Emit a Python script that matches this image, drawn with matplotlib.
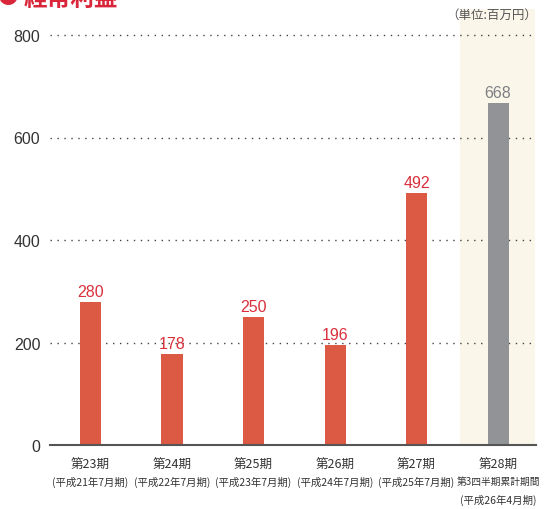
#!/usr/bin/env python3
"""経常利益 bar chart (unit: million yen)."""

import matplotlib
matplotlib.use("Agg")
import matplotlib.pyplot as plt

plt.rcParams["font.family"] = ["Noto Sans CJK JP", "DejaVu Sans"]

periods = ["第23期", "第24期", "第25期", "第26期", "第27期", "第28期"]
subtitles = ["(平成21年7月期)", "(平成22年7月期)", "(平成23年7月期)",
             "(平成24年7月期)", "(平成25年7月期)", "第3四半期累計期間"]
extra_line = "(平成26年4月期)"
values = [280, 178, 250, 196, 492, 668]
yticks = [0, 200, 400, 600, 800]

RED = "#dc5943"
GRAY = "#929397"
LABEL_RED = "#d9303c"
LABEL_GRAY = "#7e7f83"
BAND = "#faf6ea"

fig = plt.figure(figsize=(5.47, 5.10), dpi=100)
ax = fig.add_axes([50 / 547, 1 - 446 / 510, 486 / 547, 436 / 510])

x = list(range(len(values)))
colors = [RED] * (len(values) - 1) + [GRAY]

ax.set_xlim(-0.497, 5.466)
ax.set_ylim(0, 800 + 26 / 410 * 800)

# highlighted latest period
ax.axvspan(4.53, 5.45, color=BAND, zorder=0, lw=0)

for t in yticks[1:]:
    ax.axhline(t, color="#444444", lw=1.0, ls=(0, (1, 4)), zorder=1)

bars = ax.bar(x, values, width=0.258, color=colors, zorder=2)

for xi, v, c in zip(x, values, colors):
    ax.annotate(str(v), (xi, v), xytext=(0, 2), textcoords="offset points",
                ha="center", va="bottom", fontsize=11.5,
                family="Liberation Sans",
                color=LABEL_GRAY if c == GRAY else LABEL_RED)

ax.set_yticks(yticks)
ax.set_yticklabels([str(t) for t in yticks], family="Liberation Sans",
                   fontsize=11.5, color="#333333")
ax.tick_params(axis="y", length=0, pad=7)
ax.set_xticks([])

for s in ["top", "right", "left"]:
    ax.spines[s].set_visible(False)
ax.spines["bottom"].set_color("#555555")
ax.spines["bottom"].set_linewidth(1.5)

# x labels
for xi, p, s in zip(x, periods, subtitles):
    ax.annotate(p, (xi, 0), xytext=(0, -19 * 0.72), textcoords="offset points",
                ha="center", va="center", fontsize=9, color="#333333",
                annotation_clip=False)
    fs = 7 if xi == len(values) - 1 else 7.5
    ax.annotate(s, (xi, 0), xytext=(0, -36 * 0.72), textcoords="offset points",
                ha="center", va="center", fontsize=fs, color="#333333",
                annotation_clip=False)
ax.annotate(extra_line, (x[-1], 0), xytext=(0, -54 * 0.72),
            textcoords="offset points", ha="center", va="center",
            fontsize=7.5, color="#333333", annotation_clip=False)

# title, clipped at the top edge like the source
fig.text(-2 / 547, 1 - 4 / 510, "●", color="#d9263a", fontsize=15,
         va="baseline", ha="left")
fig.text(24 / 547, 1 - 6 / 510, "経常利益", color="#d9263a", fontsize=17,
         weight="bold", va="baseline", ha="left")
fig.text(537 / 547, 1 - 15 / 510, "（単位:百万円）", color="#555555",
         fontsize=9, va="center", ha="right")

fig.savefig("out.png", dpi=100)
